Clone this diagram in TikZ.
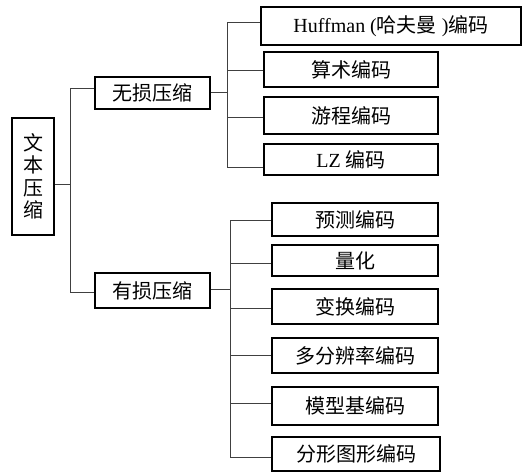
\documentclass[tikz,border=0pt]{standalone}
\usepackage{fontspec}
\setmainfont{Liberation Serif}
\newfontfamily\cjk{Noto Sans CJK SC}
\begin{document}
\begin{tikzpicture}[x=1pt,y=-1pt,
  box/.style={draw=black,line width=1.1pt,inner sep=0pt,fill=white,
    font=\fontsize{20}{22.5}\selectfont},
  conn/.style={draw=black!75,line width=1pt}]
\useasboundingbox (0,0) rectangle (529,473);
% nodes
\node[box,minimum width=42pt,minimum height=117pt,align=center] (root) at (33,176.5) {\cjk 文\\\cjk 本\\\cjk 压\\\cjk 缩};
\node[box,minimum width=115pt,minimum height=32pt] (lossless) at (152.5,93) {\cjk 无损压缩};
\node[box,minimum width=115pt,minimum height=35pt] (lossy) at (152.5,290.5) {\cjk 有损压缩};
\node[box,minimum width=260pt,minimum height=38pt] (huff) at (391,26) {Huffman ({\cjk 哈夫曼} ){\cjk 编码}};
\node[box,minimum width=174pt,minimum height=35pt] (suan) at (351,69.5) {\cjk 算术编码};
\node[box,minimum width=174pt,minimum height=37pt] (you) at (351,115.5) {\cjk 游程编码};
\node[box,minimum width=174pt,minimum height=31pt] (lz) at (351,159.5) {LZ {\cjk 编码}};
\node[box,minimum width=166pt,minimum height=33pt] (yuce) at (355,219.5) {\cjk 预测编码};
\node[box,minimum width=166pt,minimum height=31pt] (lh) at (355,260.5) {\cjk 量化};
\node[box,minimum width=166pt,minimum height=35pt] (bh) at (355,306.5) {\cjk 变换编码};
\node[box,minimum width=166pt,minimum height=35pt] (dfb) at (355,355.5) {\cjk 多分辨率编码};
\node[box,minimum width=166pt,minimum height=38pt] (mxj) at (355,406) {\cjk 模型基编码};
\node[box,minimum width=168pt,minimum height=34pt] (fx) at (356,454) {\cjk 分形图形编码};
% root bus
\coordinate (r0) at (70,184);
\coordinate (r1) at (70,89);
\coordinate (r2) at (70,292);
\draw[conn] (root.east |- r0) -- (r0);
\draw[conn] (r1) -- (r2);
\draw[conn] (r1) -- (lossless.west |- r1);
\draw[conn] (r2) -- (lossy.west |- r2);
% lossless bus
\coordinate (a0) at (227,93);
\coordinate (a1) at (227,23);
\coordinate (a2) at (227,71);
\coordinate (a3) at (227,118);
\coordinate (a4) at (227,167);
\draw[conn] (lossless.east) -- (a0);
\draw[conn] (a1) -- (a4);
\draw[conn] (a1) -- (huff.west |- a1);
\draw[conn] (a2) -- (suan.west |- a2);
\draw[conn] (a3) -- (you.west |- a3);
\draw[conn] (a4) -- (lz.west |- a4);
% lossy bus
\coordinate (b0) at (230,289);
\coordinate (b1) at (230,220);
\coordinate (b2) at (230,263);
\coordinate (b3) at (230,308);
\coordinate (b4) at (230,355);
\coordinate (b5) at (230,403);
\coordinate (b6) at (230,457);
\draw[conn] (lossy.east |- b0) -- (b0);
\draw[conn] (b1) -- (b6);
\draw[conn] (b1) -- (yuce.west |- b1);
\draw[conn] (b2) -- (lh.west |- b2);
\draw[conn] (b3) -- (bh.west |- b3);
\draw[conn] (b4) -- (dfb.west |- b4);
\draw[conn] (b5) -- (mxj.west |- b5);
\draw[conn] (b6) -- (fx.west |- b6);
\end{tikzpicture}
\end{document}
